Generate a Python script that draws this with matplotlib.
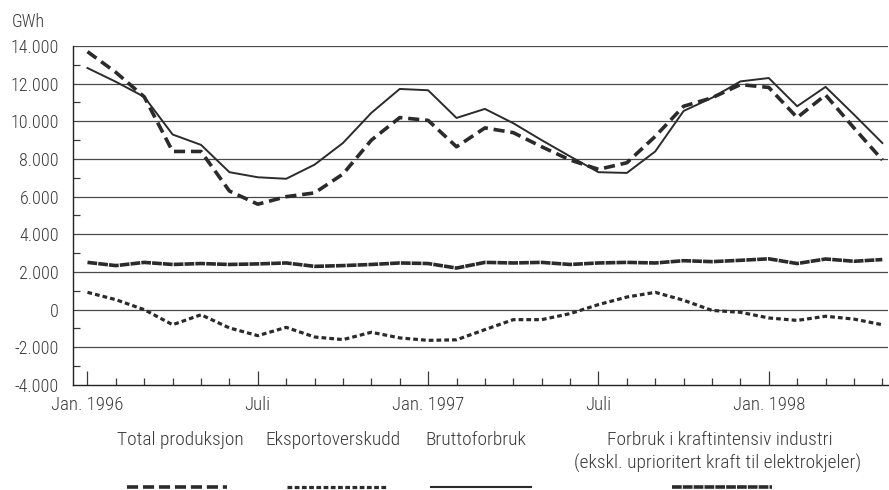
import matplotlib
matplotlib.use("Agg")
import matplotlib.pyplot as plt
from matplotlib import font_manager
from matplotlib.lines import Line2D
from matplotlib.ticker import FixedLocator, MultipleLocator, FuncFormatter

# try to find a narrow/condensed sans (reference uses a Helvetica Narrow look)
def pick_font():
    fonts = [f for f in font_manager.fontManager.ttflist if f.style == "normal"]
    def st(f):
        return str(f.stretch).lower()
    for name in ["Liberation Sans Narrow", "Roboto Condensed", "Open Sans Condensed", "Noto Sans Condensed"]:
        for f in fonts:
            if f.name == name:
                return f.name, f.stretch
    for name in ["Noto Sans", "Roboto", "Open Sans", "DejaVu Sans"]:
        for f in fonts:
            if f.name == name and st(f) in ("condensed", "semi-condensed", "75", "87", "62"):
                return f.name, f.stretch
    return "Liberation Sans", "normal"

fam, stretch = pick_font()
plt.rcParams["font.family"] = [fam, "DejaVu Sans"]
plt.rcParams["font.stretch"] = stretch
plt.rcParams["font.weight"] = "light"
plt.rcParams["lines.scale_dashes"] = False

# months Jan 1996 .. May 1998
months = list(range(29))
month_labels = {0: "Jan. 1996", 6: "Juli", 12: "Jan. 1997", 18: "Juli", 24: "Jan. 1998"}

total_produksjon = [13700, 12600, 11300, 8400, 8400, 6300, 5600, 6000, 6200, 7200,
                    9000, 10200, 10050, 8650, 9650, 9400, 8650, 7950, 7450, 7800,
                    9200, 10800, 11250, 11950, 11800, 10200, 11400, 9650, 7950]
bruttoforbruk = [12830, 12100, 11300, 9300, 8750, 7300, 7030, 6950, 7700, 8850,
                 10450, 11720, 11650, 10180, 10660, 9900, 9000, 8140, 7300, 7260,
                 8400, 10550, 11250, 12120, 12300, 10800, 11830, 10360, 8850]
industri = [2510, 2340, 2510, 2400, 2450, 2400, 2430, 2480, 2300, 2340,
            2400, 2480, 2450, 2210, 2510, 2480, 2510, 2400, 2480, 2510,
            2480, 2600, 2550, 2620, 2700, 2450, 2690, 2570, 2660]
eksportoverskudd = [920, 530, 0, -800, -270, -970, -1380, -940, -1450, -1590,
                    -1200, -1500, -1630, -1600, -1060, -530, -530, -210, 270, 670,
                    920, 500, -40, -140, -440, -570, -350, -500, -800]

ink = "#2b2b2b"
txt = "#3a3a3a"

fig = plt.figure(figsize=(8.89, 4.90), dpi=100)
ax = fig.add_axes([73 / 889, 1 - 385 / 490, 815 / 889, 339 / 490])

ax.set_ylim(-4000, 14000)
ax.set_xlim(-0.51, 28.2)

for v in range(-2000, 14001, 2000):
    ax.axhline(v, color="#4a4a4a", lw=0.9, zorder=1)

ax.plot(months, bruttoforbruk, color=ink, lw=1.4, zorder=3)
ax.plot(months, total_produksjon, color=ink, lw=2.6, dashes=(8, 4.2), zorder=4)
ax.plot(months, industri, color=ink, lw=2.6, dashes=(7, 0.8), zorder=3)
ax.plot(months, eksportoverskudd, color=ink, lw=2.3, dashes=(3.4, 2.2), zorder=3)

for s in ["top", "right"]:
    ax.spines[s].set_visible(False)
for s in ["left", "bottom"]:
    ax.spines[s].set_color("#222222")
    ax.spines[s].set_linewidth(1.0)

ax.yaxis.set_major_locator(MultipleLocator(2000))
ax.yaxis.set_minor_locator(MultipleLocator(1000))
ax.yaxis.set_major_formatter(FuncFormatter(lambda v, p: f"{int(v):,}".replace(",", ".")))
ax.tick_params(axis="y", which="major", length=0, pad=10, labelsize=13, labelcolor=txt)
ax.tick_params(axis="y", which="minor", direction="in", length=5, width=0.9, color=txt)

ax.xaxis.set_major_locator(FixedLocator(list(month_labels.keys())))
ax.xaxis.set_minor_locator(FixedLocator(months))
ax.set_xticklabels(list(month_labels.values()))
ax.tick_params(axis="x", which="major", direction="in", length=10, width=0.9, color=txt,
               pad=8, labelsize=13.5, labelcolor=txt)
ax.tick_params(axis="x", which="minor", direction="in", length=5, width=0.9, color=txt)

fig.text(12 / 889, 1 - 22 / 490, "GWh", fontsize=13, color=txt, va="center")

# legend: label text above, line sample below
leg_labels = ["Total produksjon", "Eksportoverskudd", "Bruttoforbruk",
              "Forbruk i kraftintensiv industri"]
leg_text_x = [180, 333, 476, 720]
leg_line_x = [177, 337, 481, 722]
leg_styles = [dict(lw=2.6, dashes=(8, 3.5)), dict(lw=2.3, dashes=(3.4, 1.8)),
              dict(lw=1.5), dict(lw=2.6, dashes=(7, 0.8))]
for label, tx, lx, style in zip(leg_labels, leg_text_x, leg_line_x, leg_styles):
    fig.text(tx / 889, 1 - 440 / 490, label, fontsize=14, color=txt, ha="center", va="center")
    fig.add_artist(Line2D([(lx - 50) / 889, (lx + 50) / 889], [1 - 487 / 490] * 2,
                          transform=fig.transFigure, color=ink, **style))
fig.text(718 / 889, 1 - 463 / 490, "(ekskl. uprioritert kraft til elektrokjeler)",
         fontsize=14, color=txt, ha="center", va="center")

fig.savefig("out.png", dpi=100, facecolor="white")
